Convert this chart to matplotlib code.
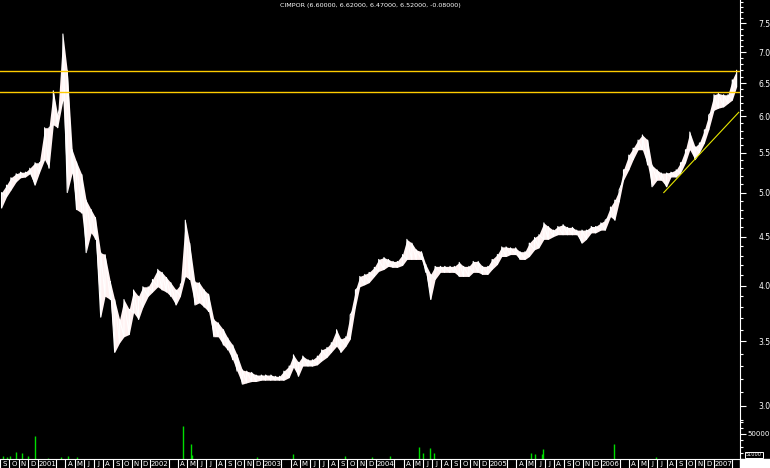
import matplotlib
matplotlib.use('Agg')
import matplotlib.pyplot as plt
from matplotlib.patches import Rectangle
from matplotlib.ticker import NullFormatter, FixedLocator, MultipleLocator
import numpy as np
import pandas as pd

# price range per half month, Sep 2000 .. Mar 2007
start_date = '2000-09-15'
end_date = '2007-03-15'
hi = [5.00, 5.09, 5.18, 5.23, 5.25, 5.25, 5.30, 5.37, 5.37, 5.84,
      5.84, 6.38, 6.02, 7.31, 6.70, 5.54, 5.38, 5.22, 4.91, 4.80,
      4.71, 4.33, 4.31, 4.04, 3.87, 3.69, 3.87, 3.78, 3.96, 3.90,
      3.99, 3.99, 4.06, 4.16, 4.13, 4.08, 4.03, 3.96, 4.01, 4.68,
      4.43, 4.04, 4.03, 3.96, 3.92, 3.69, 3.66, 3.60, 3.53, 3.47,
      3.39, 3.27, 3.26, 3.25, 3.23, 3.23, 3.23, 3.23, 3.22, 3.22,
      3.26, 3.30, 3.39, 3.33, 3.38, 3.35, 3.35, 3.38, 3.43, 3.45,
      3.49, 3.60, 3.52, 3.54, 3.73, 3.96, 4.09, 4.11, 4.13, 4.18,
      4.26, 4.28, 4.26, 4.24, 4.24, 4.31, 4.47, 4.43, 4.36, 4.34,
      4.21, 4.11, 4.19, 4.19, 4.19, 4.19, 4.19, 4.23, 4.19, 4.19,
      4.24, 4.24, 4.19, 4.19, 4.26, 4.31, 4.39, 4.39, 4.38, 4.38,
      4.34, 4.34, 4.43, 4.49, 4.52, 4.65, 4.61, 4.57, 4.61, 4.63,
      4.60, 4.60, 4.57, 4.57, 4.57, 4.61, 4.61, 4.65, 4.68, 4.83,
      4.91, 5.03, 5.28, 5.47, 5.56, 5.67, 5.74, 5.67, 5.34, 5.28,
      5.24, 5.24, 5.25, 5.28, 5.37, 5.54, 5.78, 5.58, 5.63, 5.81,
      6.02, 6.32, 6.34, 6.32, 6.32, 6.55, 6.70]
lo = [4.82, 4.95, 5.03, 5.13, 5.18, 5.19, 5.23, 5.09, 5.24, 5.41,
      5.30, 5.88, 5.84, 6.24, 5.00, 5.24, 4.80, 4.76, 4.33, 4.54,
      4.47, 3.71, 3.90, 3.87, 3.41, 3.49, 3.54, 3.56, 3.75, 3.69,
      3.80, 3.90, 3.94, 3.99, 3.96, 3.94, 3.90, 3.82, 3.90, 4.09,
      4.06, 3.82, 3.84, 3.80, 3.76, 3.54, 3.54, 3.47, 3.43, 3.35,
      3.26, 3.16, 3.17, 3.18, 3.18, 3.19, 3.19, 3.19, 3.19, 3.19,
      3.19, 3.21, 3.29, 3.22, 3.30, 3.30, 3.30, 3.31, 3.34, 3.37,
      3.41, 3.46, 3.41, 3.46, 3.52, 3.80, 3.99, 4.01, 4.03, 4.09,
      4.14, 4.16, 4.19, 4.18, 4.18, 4.20, 4.26, 4.26, 4.26, 4.26,
      4.13, 3.87, 4.06, 4.13, 4.13, 4.13, 4.13, 4.09, 4.09, 4.09,
      4.13, 4.13, 4.11, 4.11, 4.16, 4.21, 4.29, 4.29, 4.31, 4.31,
      4.26, 4.26, 4.29, 4.36, 4.38, 4.47, 4.47, 4.50, 4.52, 4.52,
      4.52, 4.52, 4.52, 4.43, 4.47, 4.54, 4.54, 4.57, 4.57, 4.72,
      4.68, 4.89, 5.15, 5.28, 5.41, 5.54, 5.54, 5.34, 5.07, 5.15,
      5.15, 5.07, 5.19, 5.19, 5.24, 5.37, 5.54, 5.41, 5.50, 5.63,
      5.81, 6.09, 6.12, 6.14, 6.19, 6.24, 6.44]

# volume spikes
vol_dates = ['2000-09-10', '2000-09-23', '2000-10-03', '2000-10-22', '2000-11-10',
             '2000-11-30', '2000-12-22', '2001-02-05', '2001-03-19', '2001-04-08',
             '2001-05-07', '2002-04-17', '2002-05-13', '2002-05-16', '2002-12-12',
             '2003-04-07', '2003-09-25', '2003-12-20', '2004-02-16', '2004-05-21',
             '2004-06-03', '2004-06-25', '2004-07-08', '2005-05-17', '2005-05-30',
             '2005-06-22', '2005-06-25', '2006-02-12', '2006-06-28']
vol = [6000, 4000, 6000, 14000, 12000, 6000, 46000, 3000, 4000, 6000,
       4000, 66000, 30000, 8000, 4000, 10000, 6000, 4000, 6000, 24000,
       12000, 22000, 12000, 12000, 10000, 10000, 20000, 30000, 4000]

hline_levels = [6.69, 6.36]
trend_dates = ['2006-07-23', '2007-03-22']
trend_prices = [5.00, 6.06]

price_ticks = [3.0, 3.5, 4.0, 4.5, 5.0, 5.5, 6.0, 6.5, 7.0, 7.5]
month_letters = ['J', 'F', 'M', 'A', 'M', 'J', 'J', 'A', 'S', 'O', 'N', 'D']
title = 'CIMPOR (6.60000, 6.62000, 6.47000, 6.52000, -0.08000)'

W, H = 770, 468
xmin, xmax = pd.Timestamp('2000-09-10'), pd.Timestamp('2007-03-26')

fig = plt.figure(figsize=(W / 100, H / 100), dpi=100, facecolor='black')
ax = fig.add_axes([0, 48 / H, 740 / W, 420 / H])
axv = fig.add_axes([0, 9 / H, 740 / W, 39 / H])

for a in (ax, axv):
    a.set_facecolor('black')
    for s in a.spines.values():
        s.set_visible(False)
    a.spines['right'].set_visible(True)
    a.spines['right'].set_color('white')
    a.set_xlim(xmin, xmax)

# price: high-low band plus bar-like zigzag
dates = pd.date_range(start_date, end_date, freq='SMS')
ax.fill_between(dates, lo, hi, color='#fff2f2', lw=0)
zx = np.repeat(dates.values, 2)
zy = np.column_stack([lo, hi]).ravel()
ax.plot(zx, zy, color='white', lw=0.8)
for lvl in hline_levels:
    ax.axhline(lvl, color='#ffcc00', lw=1)
ax.plot(pd.to_datetime(trend_dates), trend_prices, color='#e6e600', lw=0.8)

ax.set_yscale('log')
ax.set_ylim(2.90, 7.93)
ax.yaxis.tick_right()
ax.yaxis.set_major_locator(FixedLocator(price_ticks))
ax.set_yticklabels(['%.1f' % t for t in price_ticks])
ax.yaxis.set_minor_locator(FixedLocator(np.round(np.arange(2.9, 7.95, 0.1), 1)))
ax.yaxis.set_minor_formatter(NullFormatter())
ax.tick_params(axis='y', which='major', colors='white', length=4.5, width=0.8, pad=9, labelsize=5.5)
ax.tick_params(axis='y', which='minor', colors='white', length=2.2, width=0.8)
ax.set_xticks([])

fig.text(370 / W, 1 - 6 / H, title, color='white', fontsize=4.6, ha='center', va='center')

# volume
axv.vlines(pd.to_datetime(vol_dates), 0, vol, color='#00dd00', lw=1)
axv.set_ylim(0, 78000)
axv.yaxis.tick_right()
axv.set_yticks([50000])
axv.set_yticklabels(['50000'])
axv.yaxis.set_minor_locator(MultipleLocator(12500))
axv.tick_params(axis='y', which='major', colors='white', length=4.5, width=0.8, pad=1, labelsize=5)
axv.tick_params(axis='y', which='minor', colors='white', length=2.2, width=0.8)
axv.spines['bottom'].set_visible(True)
axv.spines['bottom'].set_color('white')

# month axis
months = pd.date_range('2000-09-01', '2007-03-01', freq='MS')
axv.set_xticks([m for m in months if m.month != 2])
axv.tick_params(axis='x', colors='white', length=6.5, width=0.8, direction='out', labelbottom=False)
tr = axv.get_xaxis_transform()
for m in months:
    if m.month == 1:
        axv.text(m + pd.Timedelta(days=2), -0.13, str(m.year), transform=tr, color='white',
                 fontsize=5, ha='left', va='center', clip_on=False)
    elif m.month > 3:
        axv.text(m + pd.Timedelta(days=15), -0.13, month_letters[m.month - 1], transform=tr,
                 color='white', fontsize=5, ha='center', va='center', clip_on=False)

fig.patches.append(Rectangle((740 / W, 0), 30 / W, 9 / H, transform=fig.transFigure,
                             color='white', zorder=5))
fig.text(746 / W, 13 / H, '51000', color='white', fontsize=3.6, ha='left', va='center',
         bbox=dict(facecolor='black', edgecolor='white', pad=0.6, lw=0.7))

fig.savefig('out.png', dpi=100, facecolor='black')
